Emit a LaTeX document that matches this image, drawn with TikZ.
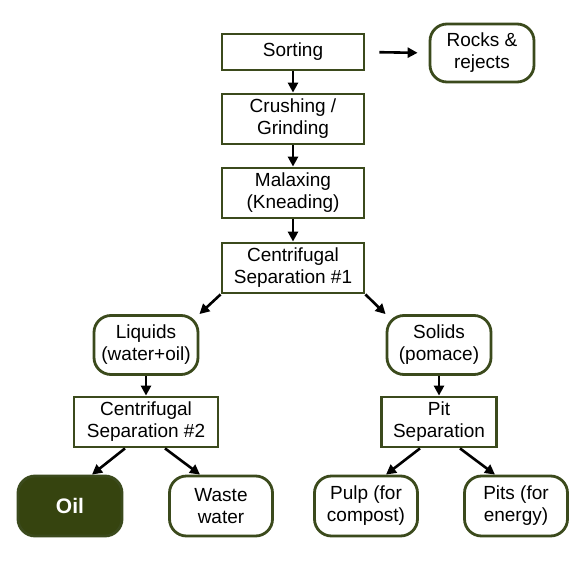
\documentclass[tikz,border=0pt]{standalone}
\usepackage{fontspec}
\setmainfont{Liberation Sans}
\usetikzlibrary{arrows.meta}
\definecolor{olive}{HTML}{3B4A1C}
\definecolor{oilfill}{HTML}{36440F}
\begin{document}
\begin{tikzpicture}[x=1pt,y=-1pt,
  box/.style={draw=olive,line width=2.8pt,fill=white,inner sep=0pt,align=center,
    font=\fontsize{19}{22}\selectfont},
  rbox/.style={box,rounded corners=17pt},
  arr/.style={line width=2.6pt,-{Triangle[length=10pt,width=10pt]}}]
\useasboundingbox (0,0) rectangle (583,567);
\node[box,minimum width=142pt,minimum height=36pt] (sort) at (293,52) {Sorting};
\node[rbox,minimum width=104pt,minimum height=58pt] (rocks) at (482,53) {Rocks \&\\rejects};
\node[box,minimum width=142pt,minimum height=50pt] (crush) at (293,119) {Crushing /\\Grinding};
\node[box,minimum width=142pt,minimum height=50pt] (malax) at (293,193) {Malaxing\\(Kneading)};
\node[box,minimum width=142pt,minimum height=50pt] (sep1) at (293,268) {Centrifugal\\Separation \#1};
\node[rbox,minimum width=104pt,minimum height=59pt] (liq) at (146,345) {Liquids\\(water+oil)};
\node[rbox,minimum width=104pt,minimum height=59pt] (sol) at (439,345) {Solids\\(pomace)};
\node[box,minimum width=144pt,minimum height=50pt] (sep2) at (146,422) {Centrifugal\\Separation \#2};
\node[box,minimum width=115pt,minimum height=50pt] (pit) at (439,422) {Pit\\Separation};
\node[rbox,fill=oilfill,text=white,font=\fontsize{21}{25}\selectfont\bfseries,
  minimum width=104pt,minimum height=60pt] (oil) at (70,506) {Oil};
\node[rbox,minimum width=103pt,minimum height=60pt] (waste) at (221,506) {Waste\\water};
\node[rbox,minimum width=103pt,minimum height=60pt] (pulp) at (366,506) {Pulp (for\\compost)};
\node[rbox,minimum width=103pt,minimum height=60pt] (pits) at (516,506) {Pits (for\\energy)};

\draw[arr,shorten <=14pt,shorten >=11pt] (sort.east) -- (rocks.west);
\draw[arr] (sort) -- (crush);
\draw[arr] (crush) -- (malax);
\draw[arr] (malax) -- (sep1);
\draw[arr] (sep1.south west) -- (liq.north east);
\draw[arr] (sep1.south east) -- (sol.north west);
\draw[arr] (liq) -- (sep2);
\draw[arr] (sol) -- (pit);
\draw[arr] ([xshift=-21pt]sep2.south) -- ([xshift=22pt]oil.north);
\draw[arr] ([xshift=19pt]sep2.south) -- ([xshift=-21pt]waste.north);
\draw[arr] ([xshift=-19pt]pit.south) -- ([xshift=20pt]pulp.north);
\draw[arr] ([xshift=21pt]pit.south) -- ([xshift=-21pt]pits.north);
\end{tikzpicture}
\end{document}
